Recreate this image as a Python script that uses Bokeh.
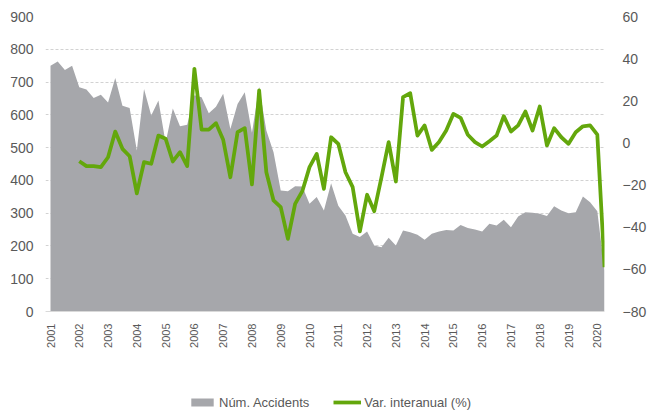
import numpy as np
from bokeh.plotting import figure
from bokeh.models import (Range1d, LinearAxis, FixedTicker, Legend, LegendItem,
                          ColumnDataSource)
from bokeh.embed import file_html
from bokeh.resources import INLINE

# Quarterly data, 2001 Q1 .. 2020 Q2
years = [str(y) for y in range(2001, 2021)]

accidents = [
    750, 763, 737, 750, 684, 677, 651, 661, 638, 712,
    628, 621, 491, 679, 598, 644, 515, 619, 565, 570,
    660, 654, 605, 625, 664, 557, 633, 669, 545, 685,
    552, 486, 369, 367, 382, 381, 329, 349, 308, 391,
    323, 293, 237, 227, 244, 201, 196, 225, 201, 247,
    242, 234, 219, 237, 244, 249, 247, 264, 255, 250,
    244, 268, 262, 280, 257, 290, 303, 301, 298, 291,
    321, 308, 300, 303, 351, 333, 306, 125,
]

var_interanual = [
    None, None, None, None,
    -8.7, -11.0, -11.0, -11.5, -6.8, 5.4, -2.8, -6.3, -23.9, -9.1,
    -9.9, 3.5, 2.0, -8.8, -4.4, -11.0, 35.2, 6.3, 6.3, 9.4,
    1.5, -16.3, 5.1, 7.0, -19.7, 24.9, -13.9, -27.3, -30.5, -45.5,
    -28.9, -22.9, -11.5, -5.2, -21.8, 2.7, -0.4, -13.9, -21.0, -42.0,
    -24.6, -32.4, -16.3, 0.4, -18.3, 21.7, 23.6, 3.5, 8.3, -3.3,
    0.4, 5.9, 13.8, 11.9, 3.9, 0.4, -1.7, 0.8, 3.5, 12.7,
    5.4, 8.3, 14.9, 5.9, 17.3, -1.2, 7.0, 2.7, -0.4, 5.1,
    7.9, 8.3, 3.9, -59.0,
]

left_ticks = list(range(0, 901, 100))
right_ticks = list(range(-80, 61, 20))

GRAY = "#a6a7ab"
GREEN = "#63a70c"
TXT = "#595959"
FONT = "Liberation Sans"

# layout (pixels): plotting band 16..311, legend band below it inside the frame
TOP, ZERO, BOTTOM = 16, 311, 412
FRAME_L, DATA_L, DATA_R = 45, 50, 604
below_px = BOTTOM - ZERO
band_px = ZERO - TOP
left_start = -below_px * 900 / band_px
right_start = -80 - below_px * 140 / band_px

n = len(accidents)
step_px = (DATA_R - DATA_L) / (n - 1)
x_start = -(DATA_L - FRAME_L) / step_px

xs = list(range(n))
src = ColumnDataSource(dict(
    x=xs,
    acc=accidents,
    var=[np.nan if v is None else v for v in var_interanual],
))

p = figure(frame_width=DATA_R - FRAME_L, frame_height=BOTTOM - TOP,
           min_border_left=FRAME_L, min_border_right=661 - DATA_R,
           min_border_top=TOP, min_border_bottom=0,
           x_range=Range1d(x_start, n - 1), y_range=Range1d(left_start, 900),
           output_backend="svg", toolbar_location=None,
           background_fill_color="white", border_fill_color="white")
p.outline_line_color = None
p.extra_y_ranges = {"pct": Range1d(right_start, 60)}

area = p.varea(x="x", y1=0, y2="acc", source=src, fill_color=GRAY, fill_alpha=1.0)
line = p.line(x="x", y="var", source=src, y_range_name="pct",
              line_color=GREEN, line_width=3.75, line_join="round")

# grid
p.xgrid.grid_line_color = None
p.ygrid.ticker = FixedTicker(ticks=left_ticks)
p.ygrid.grid_line_color = "#d2d2d2"
p.ygrid.grid_line_dash = "3 2"
p.ygrid.grid_line_width = 1

# x axis, pinned at value 0
xa = p.xaxis[0]
xa.fixed_location = 0
xa.ticker = FixedTicker(ticks=[4 * k for k in range(len(years))])
xa.major_label_overrides = {4 * k: y for k, y in enumerate(years)}
xa.major_label_orientation = np.pi / 2
xa.major_label_text_font = FONT
xa.major_label_text_font_size = "11px"
xa.major_label_text_color = TXT
xa.major_label_standoff = 12
xa.major_tick_in = 0
xa.major_tick_out = 0
xa.minor_tick_in = 0
xa.minor_tick_out = 0
xa.axis_line_color = "#d9d9d9"

# left axis
ya = p.yaxis[0]
ya.ticker = FixedTicker(ticks=left_ticks)
ya.major_label_text_font = FONT
ya.major_label_text_font_size = "14px"
ya.major_label_text_color = TXT
ya.major_label_standoff = 12
ya.major_tick_in = 0
ya.major_tick_out = 0
ya.minor_tick_in = 0
ya.minor_tick_out = 0
ya.axis_line_color = None

# right axis
ra = LinearAxis(y_range_name="pct", ticker=FixedTicker(ticks=right_ticks))
ra.major_label_text_font = FONT
ra.major_label_text_font_size = "14px"
ra.major_label_text_color = TXT
ra.major_label_standoff = 18
ra.major_tick_in = 0
ra.major_tick_out = 0
ra.minor_tick_in = 0
ra.minor_tick_out = 0
ra.axis_line_color = None
p.add_layout(ra, "right")

legend = Legend(items=[LegendItem(label="Núm. Accidents", renderers=[area]),
                       LegendItem(label="Var. interanual (%)", renderers=[line])],
                orientation="horizontal", location=(188 - FRAME_L, 1),
                label_text_font=FONT, label_text_font_size="13px",
                label_text_color=TXT, glyph_width=28, glyph_height=10,
                label_height=18,
                label_standoff=3, spacing=24, padding=0, margin=0,
                border_line_color=None, background_fill_alpha=0)
p.add_layout(legend, "center")

open("out.html", "w").write(file_html(p, INLINE))
